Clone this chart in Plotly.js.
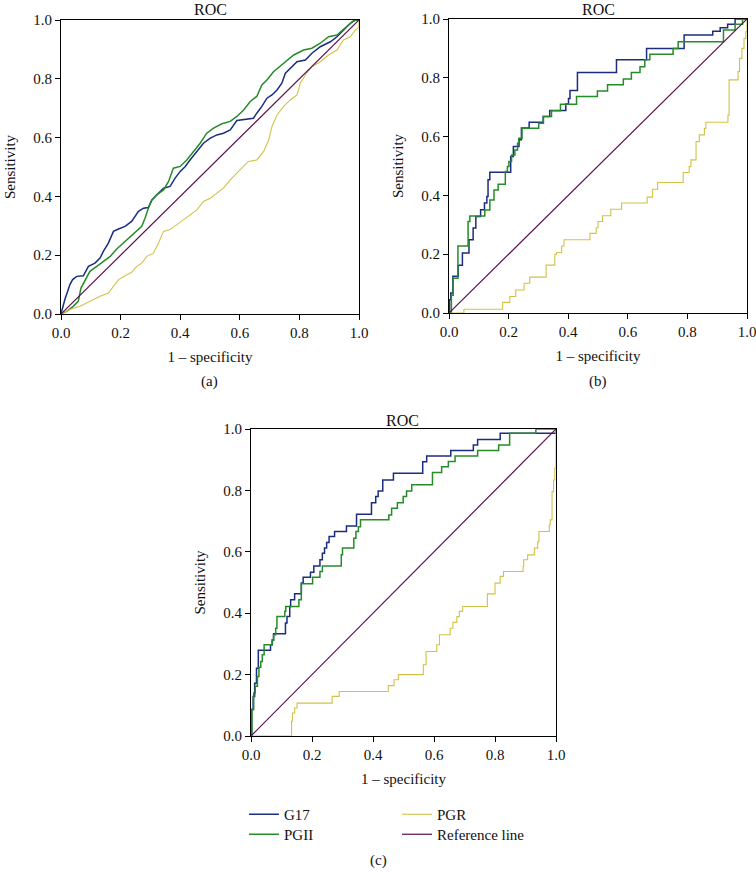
<!DOCTYPE html>
<html>
<head>
<meta charset="utf-8">
<script src="https://cdn.plot.ly/plotly-3.0.1.min.js"></script>
<style>
  html, body { margin: 0; padding: 0; background: #fff; }
  #grafica { width: 756px; height: 876px; }
</style>
</head>
<body>
<div id="grafica"></div>
<script>
// series names and colours
const series = ['G17', 'PGII', 'PGR', 'Reference line'];
const colores = ['#1c2d80', '#268c2a', '#d2c247', '#5b0f4f'];
const leyendaDe = ['legend', 'legend3', 'legend2', 'legend4'];
const ejeTicks = [0, 0.2, 0.4, 0.6, 0.8, 1.0];
const refX = [0, 1];
const refY = [0, 1];

// (a) ROC curves (1 - specificity, sensitivity)
const a_g17_x = [0, 0.013, 0.030, 0.039, 0.053, 0.075, 0.092, 0.114, 0.131, 0.142, 0.159, 0.176, 0.193, 0.215, 0.237, 0.249, 0.260, 0.277, 0.293, 0.305, 0.321, 0.344, 0.366, 0.383, 0.400, 0.417, 0.433, 0.456, 0.478, 0.501, 0.523, 0.545, 0.568, 0.590, 0.613, 0.646, 0.657, 0.674, 0.691, 0.708, 0.725, 0.741, 0.753, 0.769, 0.792, 0.820, 0.842, 0.870, 0.904, 0.926, 0.948, 0.971, 0.988, 1];
const a_g17_y = [0, 0.049, 0.100, 0.117, 0.128, 0.130, 0.162, 0.173, 0.190, 0.213, 0.241, 0.281, 0.289, 0.298, 0.315, 0.332, 0.349, 0.360, 0.362, 0.388, 0.405, 0.428, 0.434, 0.462, 0.485, 0.502, 0.524, 0.553, 0.581, 0.598, 0.609, 0.615, 0.626, 0.658, 0.662, 0.666, 0.683, 0.706, 0.734, 0.745, 0.762, 0.785, 0.819, 0.836, 0.858, 0.864, 0.887, 0.909, 0.926, 0.943, 0.966, 0.989, 1.0, 1.0];
const a_pgii_x = [0, 0.019, 0.041, 0.058, 0.067, 0.081, 0.097, 0.120, 0.142, 0.165, 0.187, 0.209, 0.232, 0.254, 0.271, 0.282, 0.293, 0.305, 0.321, 0.344, 0.361, 0.377, 0.400, 0.422, 0.445, 0.467, 0.489, 0.512, 0.540, 0.568, 0.590, 0.613, 0.635, 0.657, 0.674, 0.691, 0.713, 0.747, 0.781, 0.814, 0.842, 0.870, 0.898, 0.926, 0.960, 0.982, 1];
const a_pgii_y = [0, 0.009, 0.026, 0.043, 0.088, 0.117, 0.145, 0.162, 0.179, 0.196, 0.221, 0.241, 0.264, 0.281, 0.298, 0.326, 0.360, 0.388, 0.405, 0.422, 0.451, 0.496, 0.502, 0.524, 0.553, 0.581, 0.615, 0.632, 0.647, 0.655, 0.672, 0.694, 0.723, 0.740, 0.779, 0.796, 0.824, 0.853, 0.881, 0.898, 0.904, 0.921, 0.943, 0.949, 0.980, 0.998, 1.0];
const a_pgr_x = [0, 0.030, 0.064, 0.097, 0.131, 0.159, 0.176, 0.193, 0.215, 0.237, 0.254, 0.271, 0.288, 0.310, 0.327, 0.344, 0.366, 0.389, 0.411, 0.433, 0.456, 0.478, 0.501, 0.523, 0.545, 0.568, 0.590, 0.613, 0.629, 0.657, 0.680, 0.697, 0.708, 0.725, 0.747, 0.769, 0.792, 0.803, 0.820, 0.842, 0.870, 0.898, 0.926, 0.948, 0.971, 0.988, 1.0, 1.0];
const a_pgr_y = [0, 0.015, 0.026, 0.043, 0.060, 0.071, 0.094, 0.117, 0.130, 0.142, 0.162, 0.173, 0.196, 0.207, 0.241, 0.281, 0.287, 0.304, 0.321, 0.337, 0.354, 0.383, 0.394, 0.411, 0.428, 0.456, 0.479, 0.502, 0.519, 0.524, 0.553, 0.592, 0.638, 0.677, 0.706, 0.728, 0.745, 0.785, 0.813, 0.841, 0.858, 0.881, 0.898, 0.932, 0.943, 0.966, 0.975, 1.0];

// (b) step ROC curves
const b_g17_x = [0, 0.002, 0.006, 0.013, 0.031, 0.045, 0.067, 0.081, 0.090, 0.106, 0.119, 0.127, 0.131, 0.137, 0.207, 0.216, 0.235, 0.243, 0.269, 0.316, 0.338, 0.392, 0.401, 0.406, 0.431, 0.562, 0.663, 0.789, 0.857, 0.885, 0.910, 0.935, 0.960, 1.0];
const b_g17_y = [0, 0.045, 0.068, 0.125, 0.162, 0.204, 0.249, 0.289, 0.328, 0.351, 0.374, 0.396, 0.453, 0.479, 0.532, 0.566, 0.589, 0.629, 0.649, 0.668, 0.689, 0.711, 0.730, 0.757, 0.818, 0.861, 0.900, 0.946, 0.946, 0.958, 0.970, 0.982, 1.0, 1.0];
const b_pgii_x = [0, 0.008, 0.014, 0.030, 0.064, 0.070, 0.120, 0.137, 0.151, 0.165, 0.189, 0.196, 0.201, 0.210, 0.221, 0.230, 0.234, 0.245, 0.301, 0.317, 0.344, 0.374, 0.428, 0.498, 0.532, 0.585, 0.612, 0.641, 0.657, 0.674, 0.752, 0.769, 0.921, 0.960, 0.985, 1.0];
const b_pgii_y = [0, 0.060, 0.118, 0.228, 0.311, 0.330, 0.350, 0.384, 0.418, 0.438, 0.481, 0.498, 0.515, 0.537, 0.554, 0.577, 0.594, 0.628, 0.645, 0.668, 0.688, 0.710, 0.736, 0.755, 0.776, 0.796, 0.818, 0.838, 0.861, 0.880, 0.900, 0.923, 0.963, 0.982, 1.0, 1.0];
const b_pgr_x = [0, 0.050, 0.180, 0.204, 0.224, 0.252, 0.271, 0.326, 0.355, 0.361, 0.378, 0.386, 0.473, 0.494, 0.500, 0.515, 0.543, 0.579, 0.665, 0.683, 0.700, 0.786, 0.806, 0.812, 0.829, 0.840, 0.857, 0.862, 0.936, 0.940, 0.970, 0.975, 0.983, 0.990, 0.996, 1.0];
const b_pgr_y = [0, 0.013, 0.036, 0.056, 0.078, 0.101, 0.122, 0.163, 0.200, 0.206, 0.228, 0.249, 0.271, 0.290, 0.311, 0.331, 0.353, 0.374, 0.394, 0.421, 0.444, 0.478, 0.498, 0.521, 0.583, 0.606, 0.628, 0.649, 0.673, 0.793, 0.821, 0.866, 0.900, 0.934, 0.957, 1.0];

// (c) step ROC curves
const c_g17_x = [0, 0.002, 0.007, 0.012, 0.018, 0.024, 0.064, 0.070, 0.074, 0.113, 0.118, 0.127, 0.130, 0.143, 0.165, 0.171, 0.195, 0.206, 0.226, 0.234, 0.241, 0.248, 0.256, 0.274, 0.313, 0.346, 0.395, 0.409, 0.417, 0.432, 0.467, 0.563, 0.576, 0.655, 0.729, 0.743, 0.817, 1.0];
const c_g17_y = [0, 0.086, 0.129, 0.172, 0.221, 0.279, 0.297, 0.313, 0.333, 0.368, 0.389, 0.422, 0.444, 0.463, 0.498, 0.517, 0.533, 0.554, 0.574, 0.595, 0.612, 0.630, 0.650, 0.666, 0.684, 0.722, 0.760, 0.780, 0.798, 0.834, 0.856, 0.893, 0.912, 0.930, 0.948, 0.966, 0.986, 1.0];
const c_pgii_x = [0, 0.003, 0.009, 0.014, 0.021, 0.026, 0.032, 0.037, 0.043, 0.069, 0.074, 0.081, 0.085, 0.111, 0.114, 0.157, 0.165, 0.202, 0.226, 0.234, 0.296, 0.300, 0.337, 0.344, 0.352, 0.359, 0.452, 0.461, 0.480, 0.499, 0.510, 0.527, 0.595, 0.625, 0.647, 0.669, 0.743, 0.812, 0.848, 0.934, 1.0];
const c_pgii_y = [0, 0.086, 0.140, 0.162, 0.194, 0.224, 0.243, 0.265, 0.297, 0.313, 0.330, 0.351, 0.389, 0.406, 0.422, 0.444, 0.496, 0.517, 0.536, 0.554, 0.590, 0.612, 0.644, 0.666, 0.682, 0.704, 0.720, 0.742, 0.760, 0.780, 0.798, 0.818, 0.858, 0.877, 0.894, 0.912, 0.930, 0.948, 0.986, 1.0, 1.0];
const c_pgr_x = [0, 0.127, 0.133, 0.136, 0.143, 0.151, 0.266, 0.289, 0.450, 0.469, 0.483, 0.565, 0.574, 0.609, 0.618, 0.653, 0.662, 0.675, 0.683, 0.694, 0.775, 0.800, 0.817, 0.828, 0.892, 0.894, 0.907, 0.929, 0.940, 0.944, 0.978, 0.981, 0.987, 0.992, 0.996, 1.0];
const c_pgr_y = [0, 0, 0.048, 0.075, 0.091, 0.107, 0.129, 0.145, 0.164, 0.183, 0.200, 0.232, 0.275, 0.297, 0.330, 0.351, 0.370, 0.389, 0.406, 0.422, 0.463, 0.498, 0.520, 0.536, 0.552, 0.574, 0.590, 0.612, 0.633, 0.666, 0.688, 0.704, 0.796, 0.834, 0.872, 1.0];

const fuente = 'Liberation Serif, Times New Roman, serif';

function curvas(sufijo, datos, forma, leyenda) {
    const trazas = [];
    datos.forEach((d, i) => {
        trazas.push({
            type: 'scatter', mode: 'lines',
            x: d[0], y: d[1],
            xaxis: 'x' + sufijo, yaxis: 'y' + sufijo,
            name: series[i],
            legend: leyendaDe[i],
            showlegend: leyenda,
            line: { color: colores[i], width: i === 2 ? 1.1 : (i === 3 ? 1.2 : 1.5), shape: i === 3 ? 'linear' : forma },
            hoverinfo: 'skip'
        });
    });
    return trazas;
}

const data = [
    ...curvas('', [[a_g17_x, a_g17_y], [a_pgii_x, a_pgii_y], [a_pgr_x, a_pgr_y], [refX, refY]], 'linear', false),
    ...curvas('2', [[b_g17_x, b_g17_y], [b_pgii_x, b_pgii_y], [b_pgr_x, b_pgr_y], [refX, refY]], 'hv', false),
    ...curvas('3', [[c_g17_x, c_g17_y], [c_pgii_x, c_pgii_y], [c_pgr_x, c_pgr_y], [refX, refY]], 'hv', true)
];

function ejeX(dominio, ancla) {
    return {
        domain: dominio, anchor: ancla, range: [0, 1],
        tickvals: ejeTicks, tickformat: '.1f', ticks: 'outside', ticklen: 5, tickwidth: 1, tickcolor: '#000',
        ticklabeloverflow: 'allow',
        showline: true, linecolor: '#000', linewidth: 1, mirror: true,
        showgrid: false, zeroline: false, fixedrange: true,
        tickfont: { family: fuente, size: 15, color: '#111' },
        title: { text: '1 – specificity', font: { family: fuente, size: 15, color: '#111' }, standoff: 11 }
    };
}
function ejeY(dominio, ancla) {
    return {
        domain: dominio, anchor: ancla, range: [0, 1],
        tickvals: ejeTicks, tickformat: '.1f', ticks: 'outside', ticklen: 5, tickwidth: 1, tickcolor: '#000',
        ticklabeloverflow: 'allow',
        showline: true, linecolor: '#000', linewidth: 1, mirror: true,
        showgrid: false, zeroline: false, fixedrange: true,
        tickfont: { family: fuente, size: 15, color: '#111' },
        title: { text: 'Sensitivity', font: { family: fuente, size: 15, color: '#111' }, standoff: 14 }
    };
}

const W = 756, H = 876;
const fx = (a, b) => [a / W, b / W];
const fy = (top, bottom) => [1 - bottom / H, 1 - top / H];

function texto(t, x, y, tam) {
    return { text: t, x: x / W, y: 1 - y / H, xref: 'paper', yref: 'paper', showarrow: false,
             xanchor: 'center', yanchor: 'middle', font: { family: fuente, size: tam, color: '#111' } };
}

// one legend per entry so the 2x2 grid sits where the reference has it
function leyenda(x, y) {
    return {
        orientation: 'v', x: x / W, y: 1 - y / H, xanchor: 'left', yanchor: 'top',
        tracegroupgap: 0, font: { family: fuente, size: 15, color: '#111' }, bgcolor: 'rgba(0,0,0,0)'
    };
}

const layout = {
    width: W, height: H,
    margin: { l: 0, r: 0, t: 0, b: 0 },
    paper_bgcolor: '#fff', plot_bgcolor: '#fff',
    font: { family: fuente, size: 15, color: '#111' },
    xaxis: ejeX(fx(61, 359), 'y'),
    yaxis: ejeY(fy(20, 314), 'x'),
    xaxis2: ejeX(fx(449, 747), 'y2'),
    yaxis2: ejeY(fy(19, 313), 'x2'),
    xaxis3: ejeX(fx(251, 556), 'y3'),
    yaxis3: ejeY(fy(429, 736), 'x3'),
    showlegend: true,
    legend: leyenda(244, 798),
    legend2: leyenda(397, 798),
    legend3: leyenda(244, 818),
    legend4: leyenda(397, 818),
    annotations: [
        texto('ROC', 210, 9, 16), texto('ROC', 598, 10, 16), texto('ROC', 403, 421, 16),
        texto('(a)', 209, 381, 15), texto('(b)', 598, 381, 15), texto('(c)', 378, 860, 15)
    ]
};

Plotly.newPlot('grafica', data, layout, { staticPlot: true });
</script>
</body>
</html>
